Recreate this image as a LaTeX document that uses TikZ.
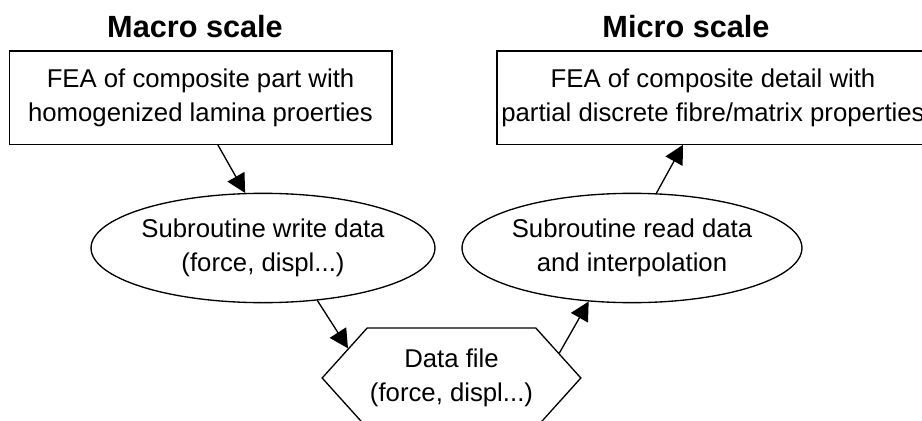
\documentclass[tikz,border=0pt]{standalone}
\usepackage{fontspec}
\setmainfont{Liberation Sans}
\usetikzlibrary{arrows.meta,shapes.geometric,shapes.symbols}

\begin{document}
\begin{tikzpicture}[x=0.75pt, y=-0.75pt,
  txt/.style={font=\fontsize{19.3}{25.5}\selectfont, align=center},
  title/.style={font=\fontsize{23}{27}\selectfont\bfseries},
  box/.style={txt, draw, line width=1pt, inner sep=0pt, minimum height=70pt},
  blob/.style={txt, draw, ellipse, line width=1pt, inner sep=0pt,
    minimum width=220pt, minimum height=82pt},
  datafile/.style={txt, draw, signal, signal to=east and west,
    signal pointer angle=96, line width=1pt, inner sep=0pt,
    minimum width=194pt, minimum height=75pt},
  flow/.style={-{Triangle[length=14pt,width=14.5pt]}, line width=1pt}]

  \useasboundingbox (0,0) rectangle (922,421);

  %% headings
  \node[title] (macro) at (195,27) {Macro scale};
  \node[title] (micro) at (686,27) {Micro scale};

  %% boxes
  \node[box, minimum width=287pt] (macrofea) at (200.5,97.5)
    {FEA of composite part with\\homogenized lamina proerties};
  \node[box, minimum width=324pt] (microfea) at (713,97.5)
    {FEA of composite detail with\\partial discrete fibre/matrix properties};

  \node[blob] (write) at (263,248) {Subroutine write data\\(force, displ...)};
  \node[blob] (read) at (632,248) {Subroutine read data\\and interpolation};

  \node[datafile] (data) at (451.5,378) {Data file\\(force, displ...)};

  %% links
  \draw[flow] ([xshift=13pt]macrofea.south) -- (write.108.8);
  \draw[flow] (write.-44.5) -- (data.164.3);
  \draw[flow] (data.13.1) -- (read.231);
  \draw[flow] (read.66.4) -- ([xshift=-22.5pt]microfea.south);

\end{tikzpicture}
\end{document}
